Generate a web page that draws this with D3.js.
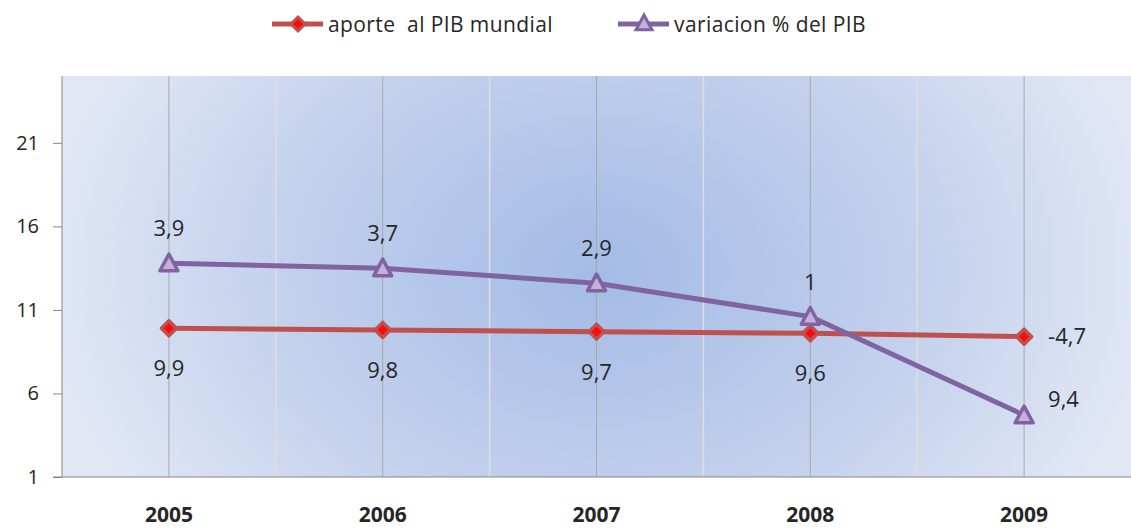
<!DOCTYPE html>
<html>
<head>
<meta charset="utf-8">
<script src="https://cdn.jsdelivr.net/npm/d3@7"></script>
<style>
  html, body { margin: 0; padding: 0; background: #ffffff; }
  svg { display: block; }
  text { font-family: "Open Sans", Lato, sans-serif; fill: #262626; white-space: pre; }
</style>
</head>
<body>
<svg id="chart" width="1131" height="529"></svg>
<script>
// ---- data ----
const years = ["2005", "2006", "2007", "2008", "2009"];
const aporte = [9.9, 9.8, 9.7, 9.6, 9.4];
const variacion = [3.9, 3.7, 2.9, 1, -4.7];
const aporteLabels = ["9,9", "9,8", "9,7", "9,6", "-4,7"];
const variacionLabels = ["3,9", "3,7", "2,9", "1", "9,4"];
const yTicks = [1, 6, 11, 16, 21];
const seriesNames = ["aporte  al PIB mundial", "variacion % del PIB"];

// ---- layout ----
const plot = { left: 62, right: 1131, top: 76, bottom: 477 };
const svg = d3.select("#chart");

const x = d3.scaleBand().domain(years).range([plot.left, plot.right]).padding(0);
const cx = d => x(d) + x.bandwidth() / 2;
const y = d3.scaleLinear().domain([1, 25]).range([plot.bottom, plot.top]);

// stacked values (stacked line chart)
const stacked = aporte.map((v, i) => v + variacion[i]);

// background gradient
const defs = svg.append("defs");
const rg = defs.append("radialGradient").attr("id", "bg")
  .attr("gradientUnits", "userSpaceOnUse")
  .attr("cx", 600).attr("cy", 270).attr("r", 560)
  .attr("gradientTransform", "translate(600,270) scale(1,0.75) translate(-600,-270)");
rg.append("stop").attr("offset", 0).attr("stop-color", "#a3bbe6");
rg.append("stop").attr("offset", 0.55).attr("stop-color", "#c2d0ec");
rg.append("stop").attr("offset", 1).attr("stop-color", "#e1e7f5");

svg.append("rect")
  .attr("x", plot.left).attr("y", plot.top)
  .attr("width", plot.right - plot.left).attr("height", plot.bottom - plot.top)
  .attr("fill", "url(#bg)");

// vertical gridlines: boundaries (light) and centers (gray)
const boundaries = years.slice(1).map(d => x(d));
svg.append("g").selectAll("line").data(boundaries).join("line")
  .attr("x1", d => d).attr("x2", d => d)
  .attr("y1", plot.top).attr("y2", plot.bottom)
  .attr("stroke", "#e3dcdc").attr("stroke-width", 1.5);
svg.append("g").selectAll("line").data(years).join("line")
  .attr("x1", d => cx(d)).attr("x2", d => cx(d))
  .attr("y1", plot.top).attr("y2", plot.bottom)
  .attr("stroke", "#a8a8a8").attr("stroke-width", 1);

// y axis
const yAxis = d3.axisLeft(y).tickValues(yTicks).tickSize(9).tickPadding(14).tickFormat(d3.format("d"));
const gy = svg.append("g").attr("transform", `translate(${plot.left},0)`).call(yAxis);
gy.select(".domain").attr("stroke", "#868686").attr("d", `M0,${plot.top}V${plot.bottom}`);
gy.selectAll(".tick line").attr("stroke", "#868686");
gy.selectAll(".tick text").style("font-size", "20px").attr("fill", "#262626")
  .style("font-family", "'Open Sans', sans-serif");

// x axis line
svg.append("line")
  .attr("x1", plot.left - 9).attr("x2", plot.right)
  .attr("y1", plot.bottom).attr("y2", plot.bottom)
  .attr("stroke", "#868686").attr("stroke-width", 1.2);

// x labels
svg.append("g").selectAll("text").data(years).join("text")
  .attr("x", d => cx(d)).attr("y", 522)
  .attr("text-anchor", "middle")
  .style("font-size", "21px").style("font-weight", "bold")
  .attr("fill", "#000")
  .text(d => d);

// lines
const line = d3.line().x(d => cx(d.year)).y(d => y(d.v));
const redPts = years.map((yr, i) => ({ year: yr, v: aporte[i] }));
const purPts = years.map((yr, i) => ({ year: yr, v: stacked[i] }));

const RED = "#c0504d", PUR = "#8064a2";

svg.append("path").datum(redPts).attr("d", line)
  .attr("fill", "none").attr("stroke", RED).attr("stroke-width", 5).attr("stroke-linejoin", "round");
svg.append("path").datum(purPts).attr("d", line)
  .attr("fill", "none").attr("stroke", PUR).attr("stroke-width", 5).attr("stroke-linejoin", "round");

// markers
const diamond = (s) => `M0,${-s}L${s},0L0,${s}L${-s},0Z`;
const triangle = (s) => `M0,${-s}L${s},${s * 0.85}L${-s},${s * 0.85}Z`;

svg.append("g").selectAll("path").data(redPts).join("path")
  .attr("transform", d => `translate(${cx(d.year)},${y(d.v)})`)
  .attr("d", diamond(7.5))
  .attr("fill", "#ff0a0a").attr("stroke", RED).attr("stroke-width", 3.5).attr("stroke-linejoin", "round");

svg.append("g").selectAll("path").data(purPts).join("path")
  .attr("transform", d => `translate(${cx(d.year)},${y(d.v)})`)
  .attr("d", triangle(9))
  .attr("fill", "#c3b1d9").attr("stroke", PUR).attr("stroke-width", 3.5).attr("stroke-linejoin", "round");

// data labels
const last = years.length - 1;
svg.append("g").selectAll("text").data(redPts).join("text")
  .attr("x", (d, i) => i === last ? cx(d.year) + 24 : cx(d.year))
  .attr("y", (d, i) => i === last ? y(d.v) + 7 : y(d.v) + 48)
  .attr("text-anchor", (d, i) => i === last ? "start" : "middle")
  .style("font-size", "22px")
  .text((d, i) => aporteLabels[i]);

svg.append("g").selectAll("text").data(purPts).join("text")
  .attr("x", (d, i) => i === last ? cx(d.year) + 24 : cx(d.year))
  .attr("y", (d, i) => i === last ? y(d.v) - 8 : y(d.v) - 27)
  .attr("text-anchor", (d, i) => i === last ? "start" : "middle")
  .style("font-size", "22px")
  .text((d, i) => variacionLabels[i]);

// legend
const legendItems = [
  { name: seriesNames[0], color: RED, x0: 272, marker: "diamond" },
  { name: seriesNames[1], color: PUR, x0: 618, marker: "triangle" }
];
const lg = svg.append("g");
legendItems.forEach(it => {
  const g = lg.append("g").attr("transform", `translate(${it.x0},24)`);
  g.append("line").attr("x1", 0).attr("x2", 51).attr("y1", 0).attr("y2", 0)
    .attr("stroke", it.color).attr("stroke-width", 5);
  if (it.marker === "diamond") {
    g.append("path").attr("transform", "translate(26,0)").attr("d", diamond(7))
      .attr("fill", "#ff0a0a").attr("stroke", it.color).attr("stroke-width", 3);
  } else {
    g.append("path").attr("transform", "translate(26,-1)").attr("d", triangle(8))
      .attr("fill", "#c3b1d9").attr("stroke", it.color).attr("stroke-width", 3);
  }
  g.append("text").attr("x", 56).attr("y", 8)
    .style("font-size", "21px").style("letter-spacing", "0.4px").text(it.name);
});
</script>
</body>
</html>
